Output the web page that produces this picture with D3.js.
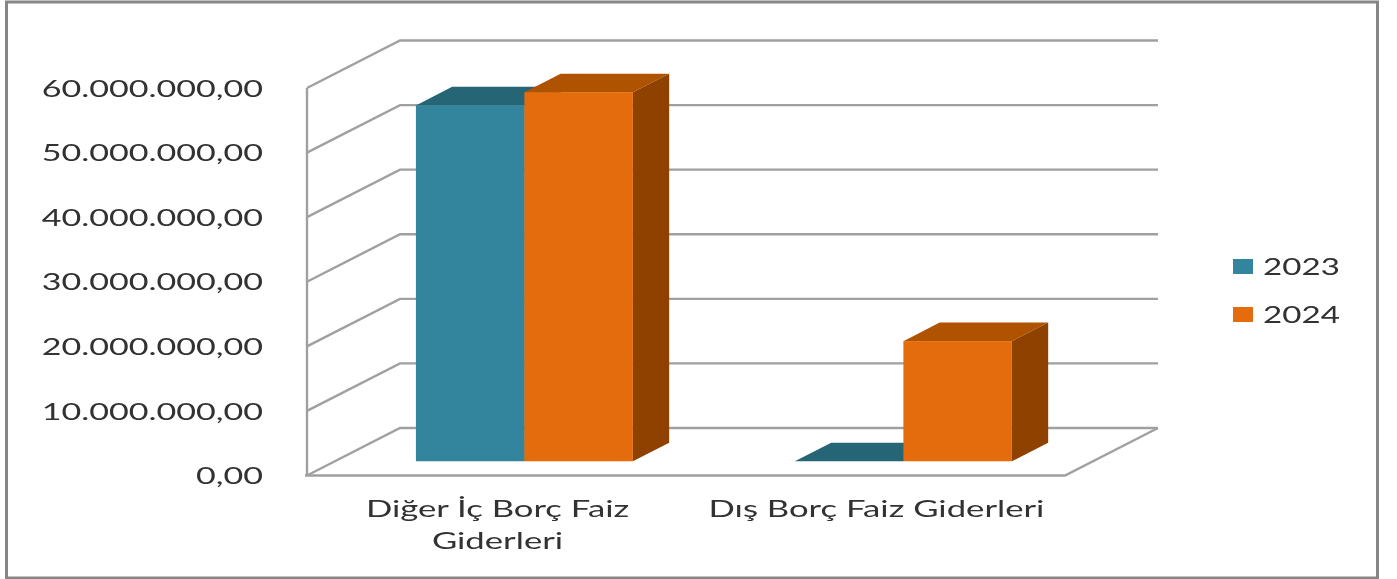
<!DOCTYPE html>
<html>
<head>
<meta charset="utf-8">
<script src="https://cdn.jsdelivr.net/npm/d3@7"></script>
<style>
    html,body{margin:0;padding:0;background:#fff;}
    svg{display:block;}
    text{font-family:Lato,"Open Sans",sans-serif;fill:#303030;}
</style>
</head>
<body>
<div id="chart"></div>
<script>
var categories = [["Diğer İç Borç Faiz","Giderleri"],["Dış Borç Faiz Giderleri"]];
var series_names = ["2023","2024"];
var values_2023 = [55100000,0];
var values_2024 = [57150000,18600000];
var y_ticks = [0,10000000,20000000,30000000,40000000,50000000,60000000];
var colors_front = ["#31859c","#e46c0a"];
var colors_top = ["#256574","#af5305"];
var colors_side = ["#1f5562","#8f4304"];

var width = 1397, height = 579,
    left = 307, right = 1065, floor = 475.5, top_y = 88,
    depth_x = 93, depth_y = -47.5,
    grid_color = "#a0a0a0",
    text_stretch = 1.45;

var svg = d3.select("#chart").append("svg")
    .attr("width",width)
    .attr("height",height);

// the reference is a slightly soft, resampled picture
svg.append("defs").append("filter")
    .attr("id","soft")
    .append("feGaussianBlur")
    .attr("stdDeviation",0.45);

var root = svg.append("g").attr("filter","url(#soft)");

var y = d3.scaleLinear().domain([0,60000000]).range([floor,top_y]);
var x0 = d3.scaleBand().domain(d3.range(categories.length)).range([left,right]);
var x1 = d3.scaleBand().domain(d3.range(series_names.length))
    .range([0,x0.bandwidth()-162]);

// frame
root.append("rect")
    .attr("x",0).attr("y",0)
    .attr("width",width).attr("height",height)
    .attr("fill","#fff");
root.append("rect")
    .attr("x",6.5).attr("y",2)
    .attr("width",1371).attr("height",576)
    .attr("fill","#fff")
    .attr("stroke","#868686")
    .attr("stroke-width",3);

function drawGrid(){
    var grid = root.append("g")
        .attr("fill","none")
        .attr("stroke",grid_color)
        .attr("stroke-width",2.4);

    y_ticks.forEach(function(t){
        var p = y(t);
        grid.append("path").attr("d","M"+left+","+p+"L"+(left+depth_x)+","+(p+depth_y)+"H"+(right+depth_x));
    });
    // left wall edge and floor edges
    grid.append("path").attr("d","M"+left+","+top_y+"V"+floor);
    grid.append("path").attr("d","M"+(left-2)+","+floor+"H"+right+"L"+(right+depth_x)+","+(floor+depth_y));
};

function drawBars(){
    var bars = root.append("g");
    var bar_w = x1.bandwidth(),
        near = 0.3, far = 0.69,
        dx = depth_x*(far-near), dy = depth_y*(far-near);

    [values_2023,values_2024].forEach(function(vals,s){
        vals.forEach(function(v,c){
            var x = x0(c)+depth_x*near+81+x1(s),
                yb = y(0)+depth_y*near,
                yt = yb-(y(0)-y(v));

            // top
            bars.append("path")
                .attr("d",d3.line()([[x,yt],[x+dx,yt+dy],[x+bar_w+dx,yt+dy],[x+bar_w,yt]])+"Z")
                .attr("fill",colors_top[s]);
            if(v>0){
                // side
                bars.append("path")
                    .attr("d",d3.line()([[x+bar_w,yt],[x+bar_w+dx,yt+dy],[x+bar_w+dx,yb+dy],[x+bar_w,yb]])+"Z")
                    .attr("fill",colors_side[s]);
                // front
                bars.append("rect")
                    .attr("x",x).attr("y",yt)
                    .attr("width",bar_w).attr("height",yb-yt)
                    .attr("fill",colors_front[s]);
            }
        });
    });
};

function drawAxes(){
    var axis = d3.axisLeft(y)
        .tickValues(y_ticks)
        .tickSize(0)
        .tickFormat(function(d){
            return d3.format(",")(d).replace(/,/g,".")+",00";
        });
    var g = root.append("g")
        .attr("transform","translate("+left+",0)")
        .call(axis);
    g.select(".domain").remove();
    g.selectAll("text")
        .attr("x",0)
        .attr("dy","0.35em")
        .attr("transform","translate(-44,0) scale("+text_stretch+",1)")
        .style("font-size","23.5px");

    var cat = root.append("g");
    categories.forEach(function(lines,c){
        lines.forEach(function(line,i){
            cat.append("text")
                .attr("text-anchor","middle")
                .attr("transform","translate("+(x0(c)+x0.bandwidth()/2+1)+","+(517+i*32)+") scale(1.475,1)")
                .style("font-size","23.5px")
                .text(line);
        });
    });
};

function drawLegend(){
    var legend = root.append("g");
    series_names.forEach(function(name,i){
        var ly = 266+i*48;
        legend.append("rect")
            .attr("x",1233).attr("y",ly-7)
            .attr("width",20).attr("height",15)
            .attr("fill",colors_front[i]);
        legend.append("text")
            .attr("dy","0.35em")
            .attr("transform","translate(1263,"+(ly+1)+") scale(1.41,1)")
            .style("font-size","23.5px")
            .text(name);
    });
};

drawGrid();
drawBars();
drawAxes();
drawLegend();
</script>
</body>
</html>
